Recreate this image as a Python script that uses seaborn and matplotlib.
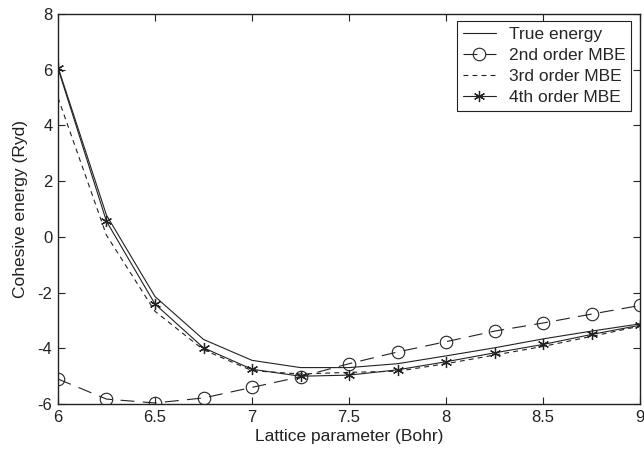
import matplotlib
matplotlib.use("Agg")
import matplotlib.pyplot as plt
import seaborn as sns

lattice = [6.0, 6.25, 6.5, 6.75, 7.0, 7.25, 7.5, 7.75, 8.0, 8.25, 8.5, 8.75, 9.0]
true_energy = [6.1, 0.78, -2.14, -3.68, -4.43, -4.69, -4.69, -4.55, -4.27, -3.98, -3.66, -3.38, -3.12]
mbe2 = [-5.10, -5.82, -5.96, -5.78, -5.40, -5.02, -4.55, -4.13, -3.76, -3.38, -3.09, -2.77, -2.46]
mbe3 = [5.0, 0.06, -2.67, -4.05, -4.80, -4.92, -4.86, -4.82, -4.55, -4.24, -3.93, -3.57, -3.20]
mbe4 = [6.05, 0.56, -2.41, -3.98, -4.75, -5.0, -4.96, -4.77, -4.48, -4.16, -3.86, -3.50, -3.17]

labels = ["True energy", "2nd order MBE", "3rd order MBE", "4th order MBE"]
xticks = [6, 6.5, 7, 7.5, 8, 8.5, 9]
xticklabels = ["6", "6.5", "7", "7.5", "8", "8.5", "9"]
yticks = [-6, -4, -2, 0, 2, 4, 6, 8]
yticklabels = ["-6", "-4", "-2", "0", "2", "4", "6", "8"]

sns.set_theme(style="white")
plt.rcParams['font.family'] = ['Liberation Sans', 'DejaVu Sans']
plt.rcParams['lines.scale_dashes'] = False

fig = plt.figure(figsize=(6.44, 4.51), dpi=100)
ax = fig.add_axes([0.090, 0.104, 0.904, 0.865])

ink = "#222222"
kw = dict(color=ink, linewidth=0.8, ax=ax)
sns.lineplot(x=lattice, y=true_energy, label=labels[0], linestyle="-", **kw)
sns.lineplot(x=lattice, y=mbe2, label=labels[1], linestyle=(0, (10, 6)), marker="o",
             markersize=9, markerfacecolor="none", markeredgecolor=ink,
             markeredgewidth=0.8, **kw)
sns.lineplot(x=lattice, y=mbe3, label=labels[2], linestyle=(0, (3.5, 3)), **kw)
sns.lineplot(x=lattice, y=mbe4, label=labels[3], linestyle="-", marker=(6, 2, 0),
             markersize=8, markerfacecolor="none", markeredgecolor=ink,
             markeredgewidth=0.9, **kw)

ax.set_xlim(6, 9)
ax.set_ylim(-6, 8)
ax.set_xticks(xticks)
ax.set_xticklabels(xticklabels)
ax.set_yticks(yticks)
ax.set_yticklabels(yticklabels)
ax.tick_params(direction="in", length=5, width=0.8, top=True, right=True,
               bottom=True, left=True, labelsize=12, colors=ink, pad=4)
for s in ax.spines.values():
    s.set_color(ink)
    s.set_linewidth(1.0)
ax.set_xlabel("Lattice parameter (Bohr)", fontsize=12.5, color=ink, labelpad=3)
ax.set_ylabel("Cohesive energy (Ryd)", fontsize=12.5, color=ink, labelpad=7)

leg = ax.legend(loc="upper right", bbox_to_anchor=(0.985, 0.982), fontsize=12.5,
                frameon=True, fancybox=False, edgecolor=ink, framealpha=1,
                handlelength=1.9, handletextpad=0.75, borderpad=0.35, labelspacing=0.33,
                borderaxespad=0.0)
leg.get_frame().set_linewidth(0.8)

fig.savefig("out.png", dpi=100)
